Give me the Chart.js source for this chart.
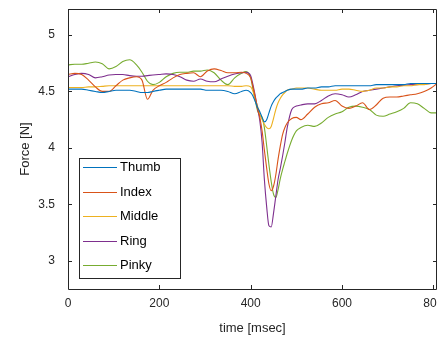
<!DOCTYPE html>
<html>
<head>
<meta charset="utf-8">
<script src="https://cdn.jsdelivr.net/npm/chart.js@4.4.0/dist/chart.umd.min.js"></script>
<style>
  html, body { margin: 0; padding: 0; background: #fff; }
  #c { display: block; }
</style>
</head>
<body>
<canvas id="c" width="437" height="339"></canvas>
<script>
// time samples (msec), shared by all fingers
const timeMs = [0,15,30,45,60,75,90,105,120,135,150,162,174,186,200,215,230,245,260,275,290,305,320,335,350,365,380,390,
  400,405,410,415,420,425,430,435,440,445,450,455,460,465,470,475,480,490,500,
  510,525,540,555,570,585,600,615,630,645,660,675,690,705,720,735,750,765,780,795,808];

const thumb = [4.52,4.52,4.52,4.51,4.50,4.49,4.50,4.51,4.51,4.51,4.50,4.49,4.49,4.50,4.51,4.52,4.52,4.52,4.52,4.52,4.52,4.51,4.51,4.51,4.50,4.48,4.50,4.51,
  4.49,4.46,4.41,4.36,4.32,4.27,4.23,4.25,4.31,4.37,4.41,4.44,4.46,4.48,4.49,4.50,4.51,4.52,4.52,
  4.52,4.53,4.53,4.54,4.54,4.55,4.55,4.55,4.55,4.55,4.55,4.56,4.56,4.56,4.56,4.56,4.57,4.57,4.57,4.57,4.57];

const index = [4.65,4.66,4.65,4.60,4.54,4.50,4.50,4.55,4.60,4.62,4.63,4.60,4.43,4.51,4.55,4.58,4.62,4.65,4.66,4.665,4.63,4.68,4.70,4.685,4.665,4.665,4.67,4.66,
  4.62,4.54,4.45,4.35,4.27,4.15,3.98,3.82,3.68,3.62,3.66,3.76,3.90,4.02,4.12,4.18,4.22,4.26,4.27,
  4.25,4.30,4.36,4.39,4.40,4.42,4.37,4.35,4.37,4.40,4.34,4.38,4.44,4.45,4.45,4.46,4.47,4.48,4.50,4.53,4.57];

const middle = [4.535,4.535,4.535,4.54,4.54,4.545,4.55,4.55,4.55,4.55,4.55,4.55,4.55,4.55,4.55,4.55,4.55,4.55,4.55,4.55,4.55,4.55,4.55,4.55,4.55,4.545,4.545,4.55,
  4.54,4.50,4.43,4.37,4.30,4.25,4.21,4.18,4.17,4.19,4.26,4.34,4.40,4.44,4.47,4.49,4.51,4.52,4.53,
  4.53,4.53,4.52,4.51,4.51,4.51,4.52,4.52,4.51,4.50,4.51,4.53,4.53,4.54,4.54,4.55,4.55,4.56,4.56,4.57,4.57];

const ring = [4.63,4.65,4.66,4.65,4.62,4.63,4.645,4.65,4.65,4.64,4.635,4.635,4.64,4.645,4.65,4.655,4.65,4.63,4.60,4.59,4.61,4.59,4.585,4.61,4.635,4.655,4.665,4.67,
  4.64,4.56,4.46,4.35,4.24,4.05,3.72,3.48,3.31,3.30,3.42,3.57,3.72,3.82,3.93,4.05,4.18,4.34,4.37,
  4.38,4.39,4.39,4.42,4.46,4.48,4.47,4.45,4.47,4.50,4.51,4.52,4.53,4.54,4.55,4.555,4.56,4.56,4.565,4.57,4.57];

const pinky = [4.735,4.74,4.74,4.75,4.76,4.745,4.70,4.72,4.765,4.78,4.735,4.67,4.59,4.56,4.58,4.63,4.66,4.67,4.67,4.68,4.68,4.69,4.665,4.60,4.56,4.62,4.66,4.675,
  4.62,4.52,4.42,4.33,4.29,4.27,4.18,4.02,3.85,3.70,3.59,3.56,3.63,3.73,3.81,3.88,3.95,4.07,4.15,
  4.18,4.20,4.19,4.22,4.27,4.30,4.32,4.36,4.37,4.36,4.34,4.29,4.28,4.30,4.32,4.35,4.40,4.39,4.35,4.31,4.31];

const fingerNames = ['Thumb', 'Index', 'Middle', 'Ring', 'Pinky'];
const fingerColors = ['#0072BD', '#D95319', '#EDB120', '#7E2F8E', '#77AC30'];
const xTicks = [0, 200, 400, 600, 800];
const yTicks = [3, 3.5, 4, 4.5, 5];

const axisColor = '#262626';
Chart.defaults.font.family = '"Liberation Sans", Arial, sans-serif';

function toPoints(vals) {
  return vals.map((v, i) => ({ x: timeMs[i], y: v }));
}

// matlab-like box with inward ticks, and the legend inside the axes
const boxPlugin = {
  id: 'matlabBox',
  afterDatasetsDraw(chart) {
    const ctx = chart.ctx;
    const a = chart.chartArea;
    const xs = chart.scales.x, ys = chart.scales.y;
    ctx.save();
    ctx.strokeStyle = axisColor;
    ctx.lineWidth = 1;
    ctx.beginPath();
    ctx.rect(Math.round(a.left) + 0.5, Math.round(a.top) + 0.5, Math.round(a.right - a.left) - 1, Math.round(a.bottom - a.top));
    ctx.stroke();
    const tl = 4;
    ctx.beginPath();
    xTicks.forEach(v => {
      const px = Math.round(xs.getPixelForValue(v)) + 0.5;
      ctx.moveTo(px, a.bottom); ctx.lineTo(px, a.bottom - tl);
      ctx.moveTo(px, a.top); ctx.lineTo(px, a.top + tl);
    });
    yTicks.forEach(v => {
      const py = Math.round(ys.getPixelForValue(v)) + 0.5;
      ctx.moveTo(a.left, py); ctx.lineTo(a.left + tl, py);
      ctx.moveTo(a.right, py); ctx.lineTo(a.right - tl, py);
    });
    ctx.stroke();

    // legend
    const lx = 79.5, ly = 158.5, lw = 101, lh = 120;
    ctx.fillStyle = '#fff';
    ctx.fillRect(lx, ly, lw, lh);
    ctx.strokeRect(lx, ly, lw, lh);
    ctx.font = '13px "Liberation Sans", Arial, sans-serif';
    ctx.textBaseline = 'middle';
    fingerNames.forEach((name, i) => {
      const y = Math.round(167 + i * 24.5) + 0.5;
      ctx.strokeStyle = fingerColors[i];
      ctx.beginPath();
      ctx.moveTo(83, y); ctx.lineTo(117, y);
      ctx.stroke();
      ctx.fillStyle = '#000';
      ctx.fillText(name, 120, y);
    });
    ctx.restore();
  }
};

new Chart(document.getElementById('c'), {
  type: 'line',
  data: {
    datasets: [thumb, index, middle, ring, pinky].map((vals, i) => ({
      label: fingerNames[i],
      data: toPoints(vals),
      borderColor: fingerColors[i],
      borderWidth: 1.1,
      pointRadius: 0,
      fill: false,
      cubicInterpolationMode: 'monotone'
    }))
  },
  options: {
    responsive: false,
    animation: false,
    devicePixelRatio: 1,
    layout: { padding: { top: 9, right: 0, left: 0, bottom: 0 } },
    plugins: { legend: { display: false }, tooltip: { enabled: false } },
    scales: {
      x: {
        type: 'linear', min: 0, max: 808,
        afterBuildTicks: s => { s.ticks = xTicks.map(v => ({ value: v })); },
        afterFit: s => { s.height = 50; s.paddingLeft = 0; s.paddingRight = 0; },
        grid: { drawOnChartArea: false, drawTicks: false },
        border: { display: false },
        ticks: { color: axisColor, font: { size: 12 }, padding: 7, maxRotation: 0, callback: v => String(v) },
        title: { display: true, text: 'time [msec]', color: axisColor, font: { size: 13 }, padding: { top: 4, bottom: 3 } }
      },
      y: {
        type: 'linear', min: 2.75, max: 5.23,
        afterBuildTicks: s => { s.ticks = yTicks.map(v => ({ value: v })); },
        afterFit: s => { s.width = 68; s.paddingTop = 0; s.paddingBottom = 0; },
        grid: { drawOnChartArea: false, drawTicks: false },
        border: { display: false },
        ticks: { color: axisColor, font: { size: 12 }, padding: 13, callback: v => String(v) },
        title: { display: true, text: 'Force [N]', color: axisColor, font: { size: 13 }, padding: { top: 18, bottom: 0 } }
      }
    }
  },
  plugins: [boxPlugin]
});
</script>
</body>
</html>
